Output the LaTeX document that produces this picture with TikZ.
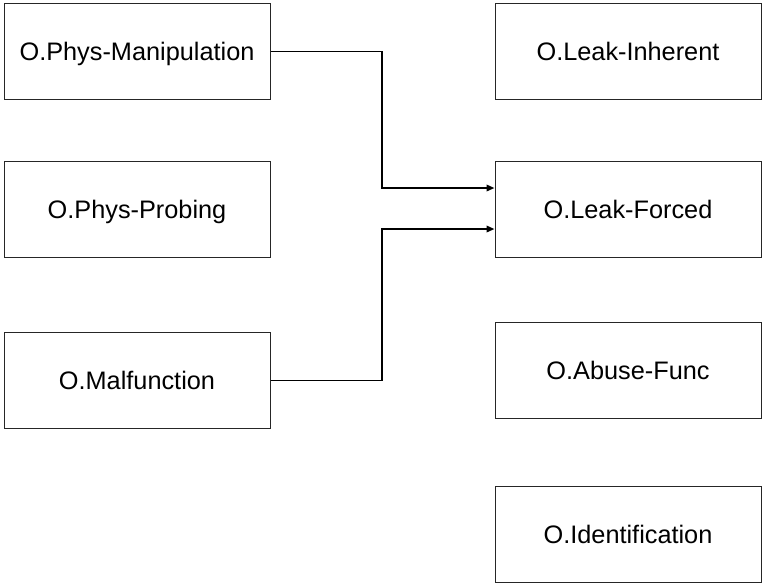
\documentclass[tikz,border=0pt]{standalone}
\usepackage{fontspec}
\setmainfont{Liberation Sans}
\usetikzlibrary{arrows.meta}
\begin{document}
\begin{tikzpicture}[x=1pt,y=-1pt,
  box/.style={draw=black!85, line width=1pt, rectangle, minimum width=266pt, minimum height=96pt, inner sep=0pt, text height=18pt, text depth=0pt, font=\fontsize{25.3}{29}\selectfont},
  conn/.style={draw=black, line width=1.8pt, -{Triangle[length=8pt,width=6.5pt]}}]
\useasboundingbox (0,0) rectangle (763,587);
\node[box] (pm) at (137,51.5) {O.Phys-Manipulation};
\node[box] (pp) at (137,209) {O.Phys-Probing};
\node[box] (mf) at (137,380.5) {O.Malfunction};
\node[box] (li) at (628,51.5) {O.Leak-Inherent};
\node[box] (lf) at (628,209) {O.Leak-Forced};
\node[box] (af) at (628,370.5) {O.Abuse-Func};
\node[box] (id) at (628,534) {O.Identification};
\draw[conn] (pm.east) -- (382,51.5) |- ([yshift=21pt]lf.west);
\draw[conn] (mf.east) -- (382,380.5) |- ([yshift=-20pt]lf.west);
\end{tikzpicture}
\end{document}
